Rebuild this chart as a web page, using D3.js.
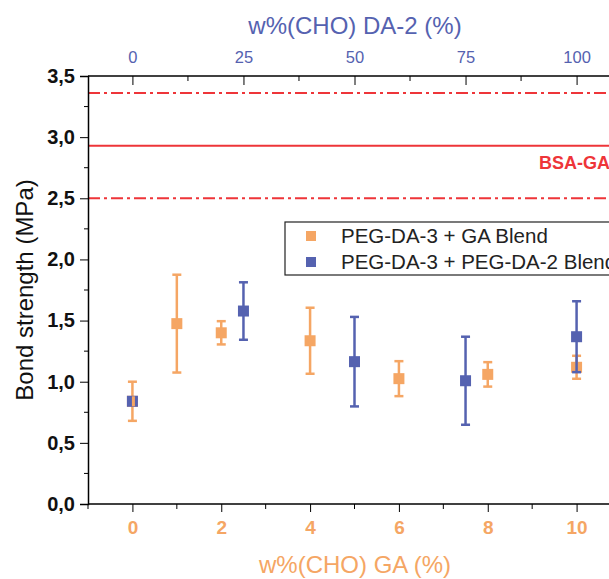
<!DOCTYPE html>
<html>
<head>
<meta charset="utf-8">
<script src="https://cdn.jsdelivr.net/npm/d3@7"></script>
<style>
  body { margin: 0; background: #fff; }
  text { font-family: "Liberation Sans", Arial, sans-serif; }
</style>
</head>
<body>
<svg id="chart" width="609" height="579"></svg>
<script>
// GA blend (bottom axis, w% CHO GA)
var gaX = [0, 1, 2, 4, 6, 8, 10];
var gaMean = [0.84, 1.475, 1.40, 1.335, 1.025, 1.06, 1.118];
var gaErr = [0.16, 0.40, 0.095, 0.27, 0.143, 0.10, 0.094];

// PEG-DA-2 blend (top axis, w% CHO DA-2)
var daX = [0, 25, 50, 75, 100];
var daMean = [0.84, 1.578, 1.164, 1.008, 1.368];
var daErr = [0.02, 0.235, 0.366, 0.36, 0.29];

// BSA-GA reference
var bsaMean = 2.93;
var bsaSd = 0.43;

var yTicks = [0, 0.5, 1, 1.5, 2, 2.5, 3, 3.5];
var gaTicks = [0, 2, 4, 6, 8, 10];
var daTicks = [0, 25, 50, 75, 100];
var legendLabels = ["PEG-DA-3 + GA Blend", "PEG-DA-3 + PEG-DA-2 Blend"];

var orange = "#f5a664", blue = "#5562b0", red = "#ee3539";

var svg = d3.select("#chart");
var m = {left: 88, right: 621, top: 76, bottom: 504};

var x = d3.scaleLinear().domain([-1, 11]).range([m.left, m.right]);
var x2 = d3.scaleLinear().domain([-10, 110]).range([m.left, m.right]);
var y = d3.scaleLinear().domain([0, 3.5]).range([m.bottom, m.top]);

var fmt = function(d) { return d3.format(".1f")(d).replace(".", ","); };

// BSA-GA lines
svg.append("line").attr("x1", m.left).attr("x2", m.right)
  .attr("y1", y(bsaMean)).attr("y2", y(bsaMean))
  .attr("stroke", red).attr("stroke-width", 2);
[bsaMean + bsaSd, bsaMean - bsaSd].forEach(function(v) {
  svg.append("line").attr("x1", m.left).attr("x2", m.right)
    .attr("y1", y(v)).attr("y2", y(v))
    .attr("stroke", red).attr("stroke-width", 2)
    .attr("stroke-dasharray", "12,4,3,4");
});
svg.append("text").attr("x", 539).attr("y", y(bsaMean) + 23.5)
  .attr("fill", red).attr("font-size", 18).attr("font-weight", "bold")
  .text("BSA-GA");

// left axis
var yAxis = d3.axisLeft(y).tickValues(yTicks).tickFormat(fmt).tickSize(8).tickPadding(5);
var gy = svg.append("g").attr("transform", "translate(" + m.left + ",0)").call(yAxis);
gy.selectAll("text").attr("font-size", 20).attr("font-weight", "bold").attr("fill", "#111");
gy.append("g").selectAll("line").data(d3.range(0.25, 3.5, 0.5)).enter().append("line")
  .attr("x1", -4).attr("x2", 0).attr("y1", function(d) { return y(d); }).attr("y2", function(d) { return y(d); })
  .attr("stroke", "#000");

// bottom axis
var xAxis = d3.axisBottom(x).tickValues(gaTicks).tickFormat(d3.format("d")).tickSize(8).tickPadding(9);
var gx = svg.append("g").attr("transform", "translate(0," + m.bottom + ")").call(xAxis);
gx.select(".domain").attr("d", "M" + m.left + ",0H" + m.right);
gx.selectAll("text").attr("font-size", 19).attr("font-weight", "bold").attr("fill", orange);
gx.append("g").selectAll("line").data([-1, 1, 3, 5, 7, 9, 11]).enter().append("line")
  .attr("x1", function(d) { return x(d); }).attr("x2", function(d) { return x(d); })
  .attr("y1", 0).attr("y2", 5).attr("stroke", "#000");

// top axis, ticks pointing inward
var x2Axis = d3.axisTop(x2).tickValues(daTicks).tickFormat(d3.format("d")).tickSize(-9).tickPadding(13);
var gt = svg.append("g").attr("transform", "translate(0," + m.top + ")").call(x2Axis);
gt.select(".domain").attr("d", "M" + m.left + ",0H" + m.right);
gt.selectAll("text").attr("font-size", 16.5).attr("fill", blue);
gt.append("g").selectAll("line").data([12.5, 37.5, 62.5, 87.5]).enter().append("line")
  .attr("x1", function(d) { return x2(d); }).attr("x2", function(d) { return x2(d); })
  .attr("y1", 0).attr("y2", 5).attr("stroke", "#000");
svg.selectAll(".domain").attr("stroke-width", 1.5);

// axis titles
svg.append("text").attr("x", 355).attr("y", 34).attr("text-anchor", "middle")
  .attr("font-size", 24).attr("fill", blue).text("w%(CHO) DA-2 (%)");
svg.append("text").attr("x", 355).attr("y", 573).attr("text-anchor", "middle")
  .attr("font-size", 24).attr("fill", orange).text("w%(CHO) GA (%)");
svg.append("text").attr("transform", "translate(33,290) rotate(-90)").attr("text-anchor", "middle")
  .attr("font-size", 24).attr("fill", "#111").text("Bond strength (MPa)");

function drawErr(g, xs, means, errs, color) {
  var grp = g.append("g").attr("stroke", color).attr("stroke-width", 2.5);
  xs.forEach(function(px, i) {
    var y1 = y(means[i] + errs[i]), y0 = y(means[i] - errs[i]);
    grp.append("line").attr("x1", px).attr("x2", px).attr("y1", y1).attr("y2", y0);
    grp.append("line").attr("x1", px - 4.5).attr("x2", px + 4.5).attr("y1", y1).attr("y2", y1);
    grp.append("line").attr("x1", px - 4.5).attr("x2", px + 4.5).attr("y1", y0).attr("y2", y0);
  });
}
function drawPts(g, xs, means, color) {
  g.append("g").selectAll("rect").data(means).enter().append("rect")
    .attr("x", function(d, i) { return xs[i] - 5.5; })
    .attr("y", function(d) { return y(d) - 5.5; })
    .attr("width", 11).attr("height", 11).attr("fill", color);
}

var gaPx = gaX.map(function(d) { return x(d); });
var daPx = daX.map(function(d) { return x2(d); });
var plot = svg.append("g");
drawErr(plot, gaPx, gaMean, gaErr, orange);
drawPts(plot, gaPx, gaMean, orange);
drawErr(plot, daPx, daMean, daErr, blue);
drawPts(plot, daPx, daMean, blue);
// orange error line at 0 shows through the blue square
plot.append("line").attr("x1", gaPx[0] + 1).attr("x2", gaPx[0] + 1)
  .attr("y1", y(gaMean[0]) - 5).attr("y2", y(gaMean[0]) + 5)
  .attr("stroke", orange).attr("stroke-width", 3);

// legend
var lg = svg.append("g").attr("transform", "translate(285,222)");
lg.append("rect").attr("width", 360).attr("height", 53).attr("fill", "#fff").attr("stroke", "#222").attr("stroke-width", 1.2);
legendLabels.forEach(function(t, i) {
  lg.append("rect").attr("x", 21).attr("y", 9 + i * 26).attr("width", 10).attr("height", 10)
    .attr("fill", i === 0 ? orange : blue);
  lg.append("text").attr("x", 56).attr("y", 21 + i * 26).attr("font-size", 20.5).attr("fill", "#222").text(t);
});
</script>
</body>
</html>
